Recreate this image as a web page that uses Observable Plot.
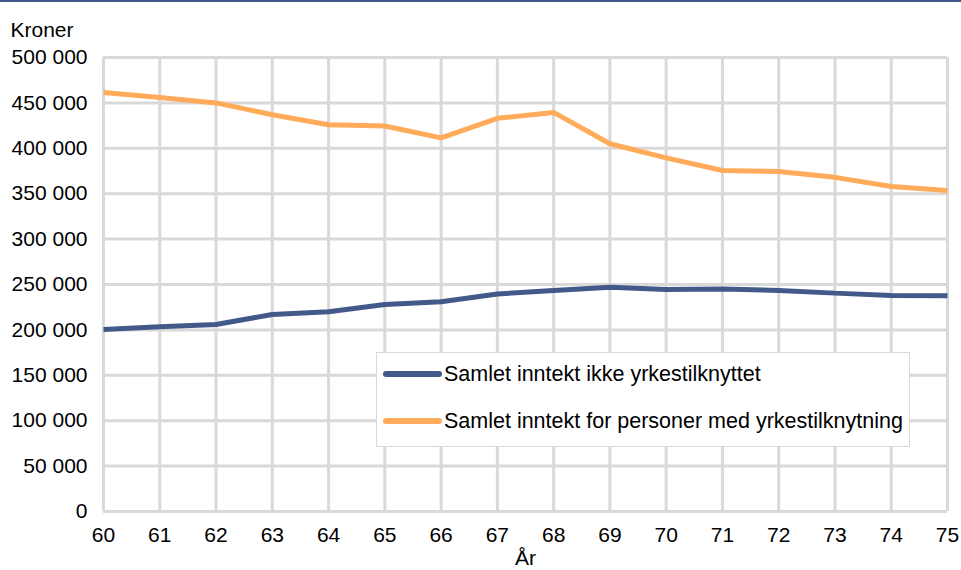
<!DOCTYPE html>
<html>
<head>
<meta charset="utf-8">
<script src="https://cdn.jsdelivr.net/npm/d3@7"></script>
<script src="https://cdn.jsdelivr.net/npm/@observablehq/plot@0.6"></script>
<style>
  html, body { margin: 0; padding: 0; background: #fff; }
  #wrap { position: relative; width: 961px; height: 570px; font-family: "Liberation Sans", Arial, sans-serif; }
  #topline { position: absolute; left: 0; top: 0; width: 961px; height: 2px; background: #3f5a8a; }
  #legend { position: absolute; left: 376px; top: 352px; width: 534px; height: 95px; background: #fff; border: 1px solid #d9d9d9; box-sizing: border-box; }
  .row { position: absolute; left: 0; height: 24px; display: flex; align-items: center; font-size: 21.5px; color: #000; white-space: nowrap; }
  .swatch { width: 59px; height: 6px; border-radius: 3px; margin-left: 6px; margin-right: 2px; }
</style>
</head>
<body>
<div id="wrap">
  <div id="chart"></div>
  <div id="topline"></div>
  <div id="legend"></div>
</div>
<script>
const years = [60, 61, 62, 63, 64, 65, 66, 67, 68, 69, 70, 71, 72, 73, 74, 75];
const ikkeYrkestilknyttet = [200500, 203500, 206000, 217000, 220000, 228000, 231000, 239500, 243500, 247000, 244500, 245000, 243500, 240500, 238000, 237500];
const medYrkestilknytning = [461500, 456000, 450000, 437000, 426000, 424500, 411500, 433000, 439500, 405000, 389500, 375500, 374500, 368000, 358000, 353500];
const seriesNames = ["Samlet inntekt ikke yrkestilknyttet", "Samlet inntekt for personer med yrkestilknytning"];
const seriesColors = ["#42598a", "#ffab59"];
const yTicks = [0, 50000, 100000, 150000, 200000, 250000, 300000, 350000, 400000, 450000, 500000];
const yLabel = "Kroner";
const xLabel = "År";

const data = [];
years.forEach((yr, i) => {
  data.push({year: yr, value: ikkeYrkestilknyttet[i], series: seriesNames[0]});
  data.push({year: yr, value: medYrkestilknytning[i], series: seriesNames[1]});
});

const fmt = v => d3.format(",")(v).replace(/,/g, " ");
const grid = {stroke: "#d9d9d9", strokeOpacity: 1, strokeWidth: 3};

const chart = Plot.plot({
  width: 961,
  height: 570,
  marginLeft: 103,
  marginRight: 14,
  marginTop: 57,
  marginBottom: 59,
  style: {fontFamily: "'Liberation Sans', Arial, sans-serif", fontSize: "21px", color: "#000", background: "#fff"},
  x: {domain: [60, 75]},
  y: {domain: [0, 500000]},
  color: {domain: seriesNames, range: seriesColors},
  marks: [
    Plot.gridX(years, grid),
    Plot.gridY(yTicks, grid),
    Plot.axisY(yTicks, {tickSize: 0, tickPadding: 16, tickFormat: fmt, label: null}),
    Plot.axisX(years, {tickSize: 0, tickPadding: 16, tickFormat: d => String(d), label: null}),
    Plot.line(data, {x: "year", y: "value", z: "series", stroke: "series", strokeWidth: 5, strokeLinecap: "butt", strokeLinejoin: "miter"}),
    Plot.text([yLabel], {frameAnchor: "top-left", text: d => d, dx: -93, dy: -35, textAnchor: "start", fill: "#000"}),
    Plot.text([xLabel], {frameAnchor: "bottom", text: d => d, dy: 53, fill: "#000"})
  ]
});
document.getElementById("chart").appendChild(chart);

const legend = document.getElementById("legend");
seriesNames.forEach((name, i) => {
  const row = document.createElement("div");
  row.className = "row";
  row.style.top = (i === 0 ? 9 : 56) + "px";
  const sw = document.createElement("div");
  sw.className = "swatch";
  sw.style.background = seriesColors[i];
  const t = document.createElement("span");
  t.textContent = name;
  row.appendChild(sw);
  row.appendChild(t);
  legend.appendChild(row);
});
</script>
</body>
</html>
